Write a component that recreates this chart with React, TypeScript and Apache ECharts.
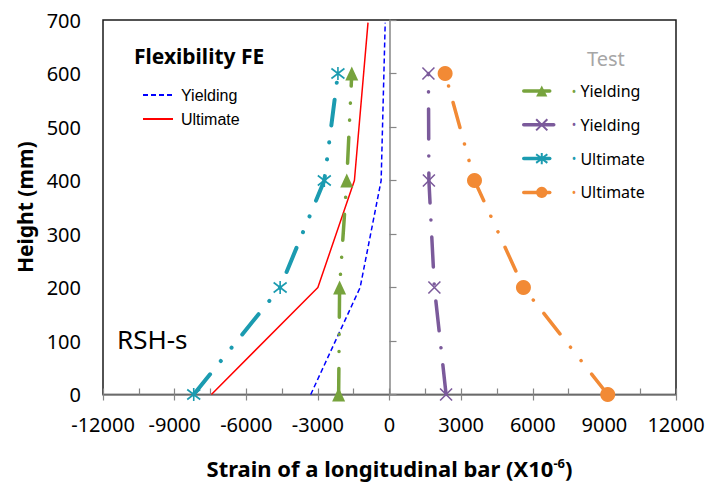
import React, { useEffect, useRef } from "react";
import * as echarts from "echarts";

// Heights (mm)
const feHeights = [0, 200, 400, 695];
const testHeights = [0, 200, 400, 600];
// Flexibility FE strains (x10^-6)
const feYieldingStrain = [-3300, -1230, -350, -180];
const feUltimateStrain = [-7460, -3000, -1470, -900];
// Test strains (x10^-6)
const testYieldingA = [-2130, -2090, -1790, -1580];
const testYieldingB = [2370, 1880, 1650, 1630];
const testUltimateA = [-8200, -4580, -2730, -2160];
const testUltimateB = [9140, 5610, 3560, 2330];

const xMin = -12000;
const xMax = 12000;
const xInterval = 3000;
const yMin = 0;
const yMax = 700;
const yInterval = 100;

const pairs = (xs: number[], ys: number[]) => xs.map((x, i) => [x, ys[i]]);

const GREEN = "#77A33D";
const PURPLE = "#7B5A9B";
const CYAN = "#1B9BB0";
const ORANGE = "#F28A35";

const X_SYM = "path://M0,0L10,10M10,0L0,10";
const STAR_SYM = "path://M0,0L10,10M10,0L0,10M5,-1.5L5,11.5";

const testNames: Record<string, string> = {
  "Test Yielding A": "{g|•} Yielding",
  "Test Yielding B": "{p|•} Yielding",
  "Test Ultimate A": "{c|•} Ultimate",
  "Test Ultimate B": "{o|•} Ultimate",
};

export default function App() {
  const ref = useRef<HTMLDivElement>(null);
  useEffect(() => {
    if (!ref.current) return;
    const chart = echarts.init(ref.current, undefined, { renderer: "svg" });
    const dashDotDot = [26, 17, 0.1, 17, 0.1, 17];
    const dashDot = [30, 17, 0.1, 17];
    chart.setOption({
      animation: false,
      backgroundColor: "#fff",
      textStyle: { fontFamily: "Noto Sans" },
      title: [
        {
          text: "Flexibility FE",
          left: 134,
          top: 45,
          padding: 0,
          textStyle: { fontSize: 21, fontWeight: "bold", color: "#000", fontFamily: "Noto Sans" },
        },
        {
          text: "Test",
          left: 587,
          top: 48,
          padding: 0,
          textStyle: { fontSize: 20, fontWeight: "normal", color: "#A6A6A6", fontFamily: "Noto Sans" },
        },
        {
          text: "RSH-s",
          left: 117,
          top: 326,
          padding: 0,
          textStyle: { fontSize: 26, fontWeight: "normal", color: "#000", fontFamily: "Noto Sans" },
        },
      ],
      legend: [
        {
          data: ["FE Yielding", "FE Ultimate"],
          orient: "vertical",
          left: 142,
          top: 87,
          padding: 0,
          itemWidth: 30,
          itemHeight: 14,
          itemGap: 8,
          itemStyle: { opacity: 0 },
          formatter: (n: string) => n.replace("FE ", ""),
          textStyle: { fontSize: 16, color: "#000", fontFamily: "Liberation Sans", padding: [0, 0, 0, 3] },
        },
        {
          data: ["Test Yielding A", "Test Yielding B", "Test Ultimate A", "Test Ultimate B"],
          orient: "vertical",
          left: 522,
          top: 83,
          padding: 0,
          itemWidth: 36,
          itemHeight: 14,
          itemGap: 17.8,
          lineStyle: { width: 3.5 },
          formatter: (n: string) => testNames[n] || n,
          textStyle: {
            fontSize: 16,
            color: "#000",
            fontFamily: "Noto Sans",
            rich: {
              g: { color: GREEN, fontSize: 12, padding: [0, 0, 0, 7] },
              p: { color: PURPLE, fontSize: 12, padding: [0, 0, 0, 7] },
              c: { color: CYAN, fontSize: 12, padding: [0, 0, 0, 7] },
              o: { color: ORANGE, fontSize: 12, padding: [0, 0, 0, 7] },
            },
          },
        },
      ],
      grid: {
        left: 103,
        right: 36,
        top: 20,
        bottom: 88,
        show: true,
        borderColor: "#1a1a1a",
        borderWidth: 1.5,
        backgroundColor: "transparent",
      },
      xAxis: [
        {
          type: "value",
          min: xMin,
          max: xMax,
          interval: xInterval,
          position: "bottom",
          axisLine: { show: true, onZero: false, lineStyle: { color: "#868686", width: 1.5 } },
          axisTick: { show: true, inside: false, length: 6, lineStyle: { color: "#868686", width: 1.2 } },
          axisLabel: {
            fontSize: 20,
            color: "#000",
            margin: 20,
            fontFamily: "Noto Sans",
            formatter: (v: number) => String(v),
          },
          splitLine: { show: false },
          name: "Strain of a longitudinal bar (X10{sup|-6})",
          nameLocation: "middle",
          nameGap: 62,
          nameTextStyle: {
            fontSize: 22,
            fontWeight: "bold",
            color: "#000",
            fontFamily: "Noto Sans",
            rich: {
              sup: { fontSize: 13, fontWeight: "bold", color: "#000", verticalAlign: "top", padding: [0, 0, 10, 0] },
            },
          },
        },
        {
          type: "value",
          min: xMin,
          max: xMax,
          interval: xInterval / 2,
          position: "bottom",
          axisLine: { show: false, onZero: false },
          axisTick: { show: true, inside: true, length: 6, lineStyle: { color: "#868686", width: 1.2 } },
          axisLabel: { show: false },
          splitLine: { show: false },
        },
      ],
      yAxis: [
        {
          type: "value",
          min: yMin,
          max: yMax,
          interval: yInterval,
          position: "left",
          axisLine: { show: false, onZero: false },
          axisTick: { show: false },
          axisLabel: { fontSize: 20, color: "#000", margin: 22, fontFamily: "Noto Sans" },
          splitLine: { show: false },
          name: "Height (mm)",
          nameLocation: "middle",
          nameGap: 61,
          nameRotate: 90,
          nameTextStyle: { fontSize: 21, fontWeight: "bold", color: "#000", fontFamily: "Noto Sans" },
        },
        {
          type: "value",
          min: yMin,
          max: yMax,
          interval: yInterval,
          position: "left",
          axisLine: { show: true, onZero: true, onZeroAxisIndex: 0, lineStyle: { color: "#868686", width: 1.5 } },
          axisTick: { show: true, inside: true, length: 7, lineStyle: { color: "#868686", width: 1.2 } },
          axisLabel: { show: false },
          splitLine: { show: false },
        },
      ],
      series: [
        {
          name: "FE Yielding",
          type: "line",
          data: pairs(feYieldingStrain, feHeights),
          showSymbol: false,
          symbol: "none",
          color: "#0000FF",
          lineStyle: { color: "#0000FF", width: 1.5, type: [5, 3] },
          z: 3,
        },
        {
          name: "FE Ultimate",
          type: "line",
          data: pairs(feUltimateStrain, feHeights),
          showSymbol: false,
          symbol: "none",
          color: "#FF0000",
          lineStyle: { color: "#FF0000", width: 1.5, type: "solid" },
          z: 3,
        },
        {
          name: "Test Yielding A",
          type: "line",
          data: pairs(testYieldingA, testHeights),
          symbol: "triangle",
          symbolSize: [13, 14],
          color: GREEN,
          itemStyle: { color: GREEN },
          lineStyle: { color: GREEN, width: 3.5, type: dashDotDot, cap: "round" },
          z: 4,
        },
        {
          name: "Test Yielding B",
          type: "line",
          data: pairs(testYieldingB, testHeights),
          symbol: X_SYM,
          symbolSize: 12,
          color: PURPLE,
          itemStyle: { color: "transparent", borderColor: PURPLE, borderWidth: 1.6 },
          lineStyle: { color: PURPLE, width: 3.5, type: dashDot, cap: "round" },
          z: 4,
        },
        {
          name: "Test Ultimate A",
          type: "line",
          data: pairs(testUltimateA, testHeights),
          symbol: STAR_SYM,
          symbolSize: 13,
          color: CYAN,
          itemStyle: { color: "transparent", borderColor: CYAN, borderWidth: 1.6 },
          lineStyle: { color: CYAN, width: 4, type: dashDotDot, cap: "round" },
          z: 4,
        },
        {
          name: "Test Ultimate B",
          type: "line",
          data: pairs(testUltimateB, testHeights),
          symbol: "circle",
          symbolSize: 15,
          color: ORANGE,
          itemStyle: { color: ORANGE },
          lineStyle: { color: ORANGE, width: 3.5, type: dashDotDot, cap: "round" },
          z: 4,
        },
      ],
    });
    return () => chart.dispose();
  }, []);
  return <div ref={ref} style={{ width: 712, height: 484, position: "absolute", left: 0, top: 0 }} />;
}
